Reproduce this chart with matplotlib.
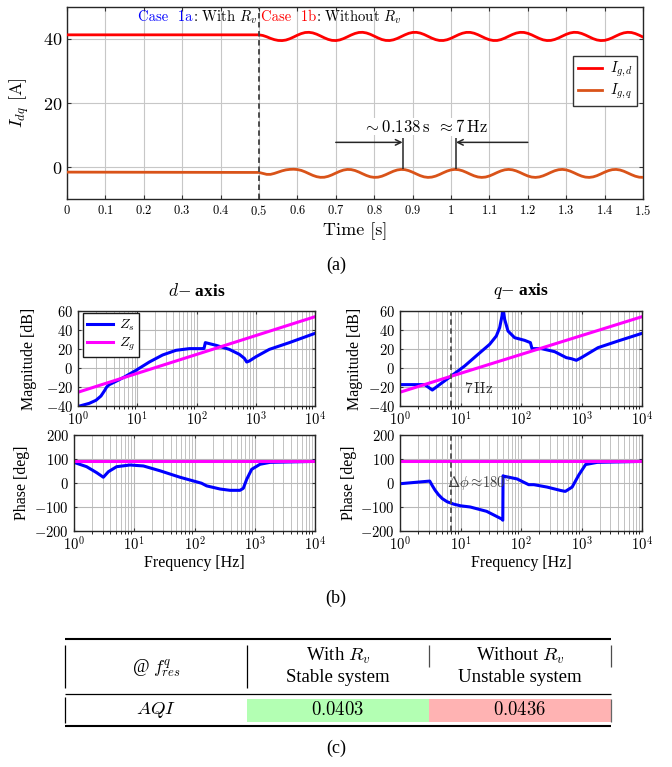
import matplotlib.pyplot as plt
import numpy as np
from matplotlib.ticker import FixedLocator, FuncFormatter, LogLocator, NullFormatter

plt.rcParams['font.family'] = 'serif'
plt.rcParams['font.serif'] = ['cmr10']
plt.rcParams['mathtext.fontset'] = 'cm'
plt.rcParams['axes.formatter.use_mathtext'] = True
plt.rcParams['axes.unicode_minus'] = True
SERIF = 'Liberation Serif'

RED = '#ff0000'
ORANGE = '#d95319'
BLUE = '#0000ff'
MAGENTA = '#ff00ff'

# ---------------- (a) grid currents, time domain ----------------
t_pre = [0.0]
id_pre = [41.3]
iq_pre = [-1.6]
t_post = np.round(np.arange(0.50, 1.5001, 0.01), 2)
id_post = [41.3, 41.1, 40.7, 40.2, 39.8, 39.55, 39.50, 39.67, 40.07, 40.61,
           41.19, 41.69, 42.02, 42.09, 41.91, 41.51, 40.96, 40.38, 39.88, 39.57,
           39.51, 39.70, 40.12, 40.67, 41.25, 41.73, 42.04, 42.09, 41.88, 41.46,
           40.90, 40.33, 39.84, 39.56, 39.52, 39.74, 40.17, 40.73, 41.30, 41.78,
           42.05, 42.08, 41.85, 41.41, 40.84, 40.27, 39.81, 39.54, 39.53, 39.77,
           40.22, 40.79, 41.36, 41.81, 42.07, 42.07, 41.81, 41.35, 40.78, 40.22,
           39.77, 39.53, 39.54, 39.81, 40.27, 40.85, 41.41, 41.85, 42.08, 42.05,
           41.77, 41.30, 40.72, 40.17, 39.73, 39.52, 39.56, 39.85, 40.33, 40.90,
           41.46, 41.88, 42.09, 42.04, 41.73, 41.24, 40.67, 40.11, 39.70, 39.51,
           39.57, 39.89, 40.38, 40.96, 41.51, 41.91, 42.09, 42.02, 41.69, 41.19,
           40.61]
iq_post = [-1.7, -2.0, -2.3, -2.3, -2.0, -1.6, -1.2, -0.9, -0.75, -0.7,
           -0.80, -1.06, -1.52, -2.07, -2.61, -3.02, -3.23, -3.20, -2.92, -2.46,
           -1.90, -1.37, -0.96, -0.76, -0.81, -1.10, -1.57, -2.13, -2.66, -3.06,
           -3.24, -3.18, -2.88, -2.40, -1.85, -1.32, -0.93, -0.76, -0.83, -1.14,
           -1.62, -2.18, -2.71, -3.09, -3.25, -3.16, -2.84, -2.35, -1.79, -1.27,
           -0.90, -0.75, -0.85, -1.18, -1.68, -2.24, -2.75, -3.11, -3.25, -3.14,
           -2.80, -2.29, -1.73, -1.23, -0.88, -0.75, -0.88, -1.23, -1.73, -2.29,
           -2.80, -3.14, -3.25, -3.11, -2.75, -2.24, -1.68, -1.18, -0.85, -0.75,
           -0.90, -1.27, -1.79, -2.35, -2.84, -3.16, -3.25, -3.09, -2.71, -2.18,
           -1.62, -1.14, -0.83, -0.76, -0.93, -1.32, -1.85, -2.40, -2.88, -3.18,
           -3.24]
t_all = np.concatenate([t_pre, t_post])
id_all = np.concatenate([id_pre, id_post])
iq_all = np.concatenate([iq_pre, iq_post])

switch_time = 0.5
time_ticks = [0, 0.1, 0.2, 0.3, 0.4, 0.5, 0.6, 0.7, 0.8, 0.9, 1.0, 1.1, 1.2, 1.3, 1.4, 1.5]
period_marks = [0.874, 1.013]   # successive peaks of I_gq

# ---------------- (b) impedance Bode plots ----------------
zg_f = [1, 1e4]
zg_mag = [-25.5, 54]
zg_phase = [90, 90]

zs_d_f = [1, 1.55, 2.01, 2.44, 2.78, 3.05, 3.38, 4.38, 6.05, 9.5, 16, 26.8, 45,
          75.7, 127, 134, 141, 213, 358, 528, 642, 703, 780, 1010, 1695, 3690, 10000]
zs_d_mag = [-40.5, -37.2, -34, -29.5, -24.2, -20, -17.5, -14, -9.5, -2.5, 6.3, 13.7,
            18.6, 20.4, 20.4, 20.6, 26.7, 23.9, 19.6, 14.4, 10.2, 6.3, 7.4, 11.9,
            19.6, 26.7, 36.5]
zs_d_ph_f = [1, 1.62, 2.38, 3.07, 3.72, 5.1, 8.5, 14.2, 26.7, 57.4, 131, 159, 265,
             388, 569, 646, 734, 889, 1223, 1791, 10000]
zs_d_ph = [86, 68, 43, 24, 47, 68, 75, 71, 51, 24, -1, -12, -25, -30.5, -30.5, -22,
           15, 57, 78, 86, 90]

zs_q_f = [1, 2.56, 3.42, 4.82, 7.05, 11.7, 19.5, 30.3, 39.1, 44.4, 48.5, 50.4,
          53.7, 61, 78.5, 115, 143, 152, 217, 360, 561, 679, 822, 994, 1875, 4010,
          10000]
zs_q_mag = [-17.5, -17.5, -23.2, -16.1, -8.4, 2.1, 14.4, 24.9, 33.7, 42.5, 54.7,
            64, 51.2, 38.9, 31.9, 29.1, 26.7, 20.4, 20.4, 17.2, 10.9, 9.8, 8.1, 10.9,
            21.4, 28.4, 36.5]
zs_q_ph_f = [1, 3.1, 3.4, 3.8, 4.3, 5, 6, 7.7, 10, 14.5, 27, 48, 50, 50.5, 53, 86,
             134, 163, 270, 450, 540, 700, 910, 1170, 1820, 10000]
zs_q_ph = [-3, 8, -10, -30, -48, -65, -78, -88, -95, -100, -118, -150, -155, 30,
           28, 17, -7, -7, -17, -31, -35, -17, 35, 77, 86, 90]
f_res = 7

# ---------------- (c) table ----------------
row_label = r'$AQI$'
corner_label = r'@ $f^{q}_{res}$'
case_names = [r'With $R_v$', r'Without $R_v$']
case_states = ['Stable system', 'Unstable system']
aqi_values = [0.0403, 0.0436]
aqi_colors = ['#b3ffb3', '#ffb3b3']

W, H = 672, 767
fig = plt.figure(figsize=(W / 100, H / 100), dpi=100)


def px_rect(x0, y0, x1, y1):
    return [x0 / W, 1 - y1 / H, (x1 - x0) / W, (y1 - y0) / H]


def frame(ax):
    for sp in ax.spines.values():
        sp.set_color('0.15')
        sp.set_linewidth(1.0)
    ax.tick_params(direction='in', top=True, right=True, color='0.2')


# ---- panel (a)
ax = fig.add_axes(px_rect(67, 7, 643, 199))
frame(ax)
ax.plot(t_all, id_all, color=RED, lw=2.0, label=r'$I_{g,d}$', zorder=3)
ax.plot(t_all, iq_all, color=ORANGE, lw=2.0, label=r'$I_{g,q}$', zorder=3)
ax.axvline(switch_time, color='0.25', ls=(0, (3, 2)), lw=1.3, zorder=6)
ax.set_xlim(0, 1.5)
ax.set_ylim(-10, 50)
ax.xaxis.set_major_locator(FixedLocator(time_ticks))
ax.xaxis.set_major_formatter(FuncFormatter(lambda v, p: f'${v:g}$'))
ax.set_yticks([0, 20, 40])
ax.tick_params(axis='x', labelsize=9, length=3)
ax.tick_params(axis='y', labelsize=13, length=3)
ax.grid(True, color='0.78', lw=0.8)
ax.set_axisbelow(True)
ax.set_xlabel('Time [s]', fontsize=13)
ax.xaxis.set_label_coords(0.5, -0.12)
ax.set_ylabel(r'$I_{dq}$ [A]', fontsize=13)
ax.yaxis.set_label_coords(-0.0625, 0.5)

y_case = 45.6
txt_a = ax.text(switch_time - 0.005, y_case, r': With $R_v$', ha='right', va='baseline',
                fontsize=10.5, zorder=5)
ax.annotate('Case  1a', xy=(0, y_case), xycoords=(txt_a, 'data'), ha='right',
            va='baseline', fontsize=10.5, color='blue', zorder=5)
txt_b = ax.text(switch_time + 0.005, y_case, 'Case  1b', ha='left', va='baseline',
                fontsize=10.5, color='red', zorder=5)
ax.annotate(r': Without $R_v$', xy=(1, y_case), xycoords=(txt_b, 'data'), ha='left',
            va='baseline', fontsize=10.5, zorder=5)

y_arrow = 7.7
ax.vlines(period_marks, -0.6, 9.2, color='0.15', lw=1.1, zorder=4)
ax.annotate('', xy=(period_marks[0], y_arrow), xytext=(0.7, y_arrow),
            arrowprops=dict(arrowstyle='->', color='0.15', lw=1.1, shrinkA=0, shrinkB=0))
ax.annotate('', xy=(period_marks[1], y_arrow), xytext=(1.2, y_arrow),
            arrowprops=dict(arrowstyle='->', color='0.15', lw=1.1, shrinkA=0, shrinkB=0))
ax.text(0.858, 12.6, r'$\sim 0.138\,\mathrm{s}$', ha='center', va='center', fontsize=12,
        bbox=dict(facecolor='white', edgecolor='none', pad=0.5), zorder=5)
ax.text(1.03, 12.6, r'$\approx 7\,\mathrm{Hz}$', ha='center', va='center', fontsize=12,
        bbox=dict(facecolor='white', edgecolor='none', pad=0.5), zorder=5)
ax.legend(loc='upper right', bbox_to_anchor=(0.99, 0.745), fontsize=10.5, frameon=True,
          fancybox=False, edgecolor='0.2', framealpha=1, handlelength=1.7,
          handletextpad=0.5, borderpad=0.3, labelspacing=0.2, borderaxespad=0)


# ---- panel (b)
def bode_axis(rect, ylim, yticks, ylabel, label_x):
    bx = fig.add_axes(rect)
    frame(bx)
    bx.set_xscale('log')
    bx.set_xlim(1, 1e4)
    bx.set_ylim(*ylim)
    bx.set_yticks(yticks)
    bx.xaxis.set_major_locator(LogLocator(base=10, numticks=10))
    bx.xaxis.set_minor_locator(LogLocator(base=10, subs=np.arange(2, 10), numticks=20))
    bx.xaxis.set_minor_formatter(NullFormatter())
    bx.grid(True, which='major', color='0.72', lw=0.8)
    bx.grid(True, which='minor', axis='x', color='0.72', lw=0.6)
    bx.set_axisbelow(True)
    bx.tick_params(which='both', labelsize=10.5, length=2.5)
    bx.set_ylabel(ylabel, family=SERIF, fontsize=11.5)
    bx.yaxis.set_label_coords(label_x, 0.5)
    return bx


ax_dm = bode_axis(px_rect(78, 311, 315, 406), (-40, 60), [-40, -20, 0, 20, 40, 60],
                  'Magnitude [dB]', -0.173)
ax_dp = bode_axis(px_rect(74, 435, 315, 531), (-200, 200), [-200, -100, 0, 100, 200],
                  'Phase [deg]', -0.183)
ax_qm = bode_axis(px_rect(400, 311, 642, 406), (-40, 60), [-40, -20, 0, 20, 40, 60],
                  'Magnitude [dB]', -0.153)
ax_qp = bode_axis(px_rect(400, 435, 642, 531), (-200, 200), [-200, -100, 0, 100, 200],
                  'Phase [deg]', -0.178)

ax_dm.plot(zs_d_f, zs_d_mag, color=BLUE, lw=2.2, label=r'$Z_s$')
ax_dm.plot(zg_f, zg_mag, color=MAGENTA, lw=2.2, label=r'$Z_g$')
ax_dp.plot(zs_d_ph_f, zs_d_ph, color=BLUE, lw=2.2)
ax_dp.plot(zg_f, zg_phase, color=MAGENTA, lw=2.2)
ax_qm.plot(zs_q_f, zs_q_mag, color=BLUE, lw=2.2)
ax_qm.plot(zg_f, zg_mag, color=MAGENTA, lw=2.2)
ax_qp.plot(zs_q_ph_f, zs_q_ph, color=BLUE, lw=2.2)
ax_qp.plot(zg_f, zg_phase, color=MAGENTA, lw=2.2)

for bx in (ax_qm, ax_qp):
    bx.axvline(f_res, color='0.3', ls=(0, (3, 2)), lw=1.3, zorder=4)
ax_qm.text(11.5, -21.5, r'$7\,\mathrm{Hz}$', ha='left', va='center', fontsize=11,
           color='0.15')
ax_qp.text(6.0, 2, r'$\Delta\phi\approx\!180^{\circ}$', ha='left', va='center',
           fontsize=10.5, color='0.25', zorder=5)

ax_dm.legend(loc='upper left', bbox_to_anchor=(0.02, 0.975), fontsize=10,
             fancybox=False, edgecolor='0.1', framealpha=1, handlelength=1.9,
             handletextpad=0.4, borderpad=0.3, labelspacing=0.2, borderaxespad=0)

for bx in (ax_dp, ax_qp):
    bx.set_xlabel('Frequency [Hz]', family=SERIF, fontsize=11.5)
    bx.xaxis.set_label_coords(0.5, -0.25)
ax_dm.text(0.5, 1.21, r'$d{-}$ axis', transform=ax_dm.transAxes, ha='center',
           va='center', family=SERIF, fontweight='bold', fontsize=12.5)
ax_qm.text(0.5, 1.21, r'$q{-}$ axis', transform=ax_qm.transAxes, ha='center',
           va='center', family=SERIF, fontweight='bold', fontsize=12.5)

# ---- panel (c): table drawn in column units (x) and pixel rows (y)
tb = fig.add_axes(px_rect(65, 630, 611, 730))
tb.set_xlim(0, 3)
tb.set_ylim(730, 630)
tb.axis('off')
tb.bar([1, 2], [23, 23], bottom=699, width=1, align='edge', color=aqi_colors,
       edgecolor='none')
tb.hlines([638.5, 725.5], 0, 3, color='black', lw=1.5, clip_on=False)
tb.hlines(693.5, 0, 3, color='black', lw=0.9, clip_on=False)
tb.vlines([0, 1], 645, 688, color='black', lw=0.9, clip_on=False)
tb.vlines([2, 3], 645, 667, color='0.3', lw=0.9, clip_on=False)
tb.vlines([0], 697, 723, color='black', lw=0.9, clip_on=False)
tb.vlines([3], 699, 722, color='0.4', lw=0.9, clip_on=False)
tb.text(0.5, 668, corner_label, ha='center', va='center', family=SERIF, fontsize=13)
tb.text(0.5, 710, row_label, ha='center', va='center', fontsize=13.5)
for i in range(2):
    tb.text(1.5 + i, 656, case_names[i], ha='center', va='center', family=SERIF,
            fontsize=13.5)
    tb.text(1.5 + i, 677, case_states[i], ha='center', va='center', family=SERIF,
            fontsize=13.5)
    tb.text(1.5 + i, 710, f'${aqi_values[i]:.4f}$', ha='center', va='center',
            fontsize=13.5)

for lab, ypx in [('(a)', 265), ('(b)', 598), ('(c)', 748)]:
    fig.text(0.5, 1 - ypx / H, lab, ha='center', va='center', family=SERIF, fontsize=13)

fig.savefig('out.png', dpi=100)
